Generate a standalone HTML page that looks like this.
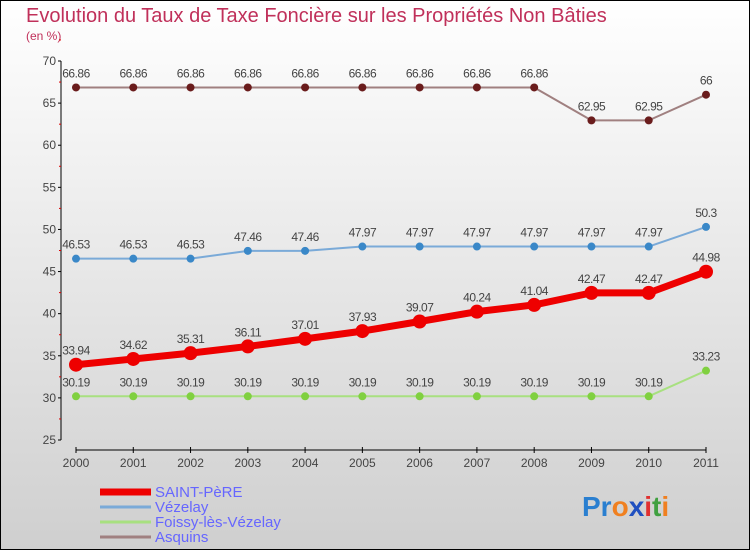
<!DOCTYPE html>
<html><head><meta charset="utf-8"><style>
body{margin:0}
svg{display:block;font-family:"Liberation Sans",sans-serif}
</style></head><body>
<svg width="750" height="550" viewBox="0 0 750 550">
<defs><linearGradient id="bg" x1="0" y1="0" x2="0" y2="1"><stop offset="0" stop-color="#ffffff"/><stop offset="1" stop-color="#cfcfcf"/></linearGradient></defs>
<rect x="0.5" y="0.5" width="749" height="549" fill="url(#bg)" stroke="#000"/>
<text x="26" y="22" font-size="20" fill="#c0305a">Evolution du Taux de Taxe Foncière sur les Propriétés Non Bâties</text>
<text x="26" y="40" font-size="12" fill="#c0305a">(en %)</text>
<g id="axes"></g>
<g id="series"></g>
<g id="legend" font-size="15" fill="#6666ff"></g>
<g font-size="28" font-weight="bold">
<text x="582" y="516"><tspan fill="#2a7fd0">Pr</tspan><tspan fill="#f08020">o</tspan><tspan fill="#2050c0">x</tspan><tspan fill="#e03030">i</tspan><tspan fill="#40a040">t</tspan><tspan fill="#f08020">i</tspan></text>
</g>
</svg>
<script>
const years=["2000","2001","2002","2003","2004","2005","2006","2007","2008","2009","2010","2011"];
const yTicks=[25,30,35,40,45,50,55,60,65,70];
const saintPere=[33.94,34.62,35.31,36.11,37.01,37.93,39.07,40.24,41.04,42.47,42.47,44.98];
const vezelay=[46.53,46.53,46.53,47.46,47.46,47.97,47.97,47.97,47.97,47.97,47.97,50.3];
const foissy=[30.19,30.19,30.19,30.19,30.19,30.19,30.19,30.19,30.19,30.19,30.19,33.23];
const asquins=[66.86,66.86,66.86,66.86,66.86,66.86,66.86,66.86,66.86,62.95,62.95,66];
const seriesNames=["SAINT-PèRE","Vézelay","Foissy-lès-Vézelay","Asquins"];
const NS="http://www.w3.org/2000/svg";
function X(i){return 76+i*(630/(years.length-1));}
function Y(v){return 61+(70-v)*(379/45);}
function mk(tag,attrs,parent,txt){const e=document.createElementNS(NS,tag);for(const k in attrs)e.setAttribute(k,attrs[k]);if(txt!==undefined)e.textContent=txt;parent.appendChild(e);return e;}
const ax=document.getElementById('axes');
let e=mk('line',{x1:61,y1:61,x2:61,y2:440,stroke:'#000'},ax);


e=mk('line',{x1:76,y1:450,x2:706,y2:450,stroke:'#000'},ax);


yTicks.forEach(t=>{
 mk('line',{x1:58,y1:Y(t),x2:61,y2:Y(t),stroke:'#000'},ax);
 e=mk('text',{x:56,y:Y(t)+4,'font-size':12,fill:'#444','text-anchor':'end'},ax,String(t));
 
 
 mk('line',{x1:59,y1:Y(t+2.5),x2:61,y2:Y(t+2.5),stroke:'#d00'},ax);
});
years.forEach((y,i)=>{
 mk('line',{x1:X(i),y1:447,x2:X(i),y2:453,stroke:'#000'},ax);
 e=mk('text',{x:X(i),y:467,'font-size':12,fill:'#444','text-anchor':'middle'},ax,y);
 
 
});
const sg=document.getElementById('series');
function draw(data,name,line,dot,w,r){
 const g=mk('g',{},sg);
 
 
 const p=mk('polyline',{points:data.map((v,i)=>X(i)+','+Y(v)).join(' '),fill:'none',stroke:line,'stroke-width':w,'stroke-linejoin':'round'},g);
 
 
 data.forEach((v,i)=>{
  const c=mk('circle',{cx:X(i),cy:Y(v),r:r,fill:dot},g);
  
  
  const t=mk('text',{x:X(i),y:Y(v)-10,'font-size':12,fill:'#444','text-anchor':'middle','letter-spacing':'-0.5'},g,String(v));
  
  
 });
}
draw(asquins,'asquins','#a08080','#6a1c1c',2,4);
draw(vezelay,'vezelay','#7aaad8','#3a88c8',2,4);
draw(foissy,'foissy','#a8e080','#80d040',2,4);
draw(saintPere,'saint-pere','#ee0000','#ee0000',7,7);
const lg=document.getElementById('legend');
const lc=['#ee0000','#7aaad8','#a8e080','#a08080'];
const lw=[7,3,3,3];
seriesNames.forEach((n,i)=>{
 const y=492+i*15;
 const g=mk('g',{},lg);
 
 
 mk('line',{x1:100,y1:y,x2:151,y2:y,stroke:lc[i],'stroke-width':lw[i]},g);
 mk('text',{x:155,y:y+5},g,n);
});
</script>
</body></html>
